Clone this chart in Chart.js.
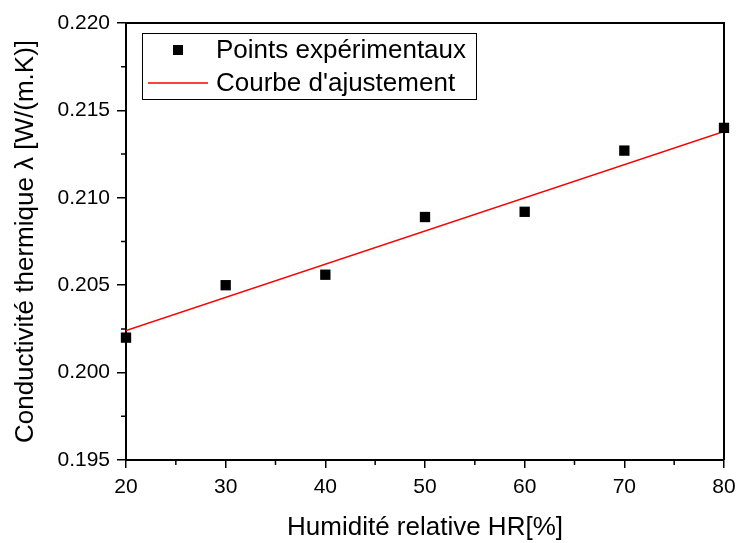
<!DOCTYPE html>
<html>
<head>
<meta charset="utf-8">
<script src="https://cdn.jsdelivr.net/npm/chart.js@4/dist/chart.umd.min.js"></script>
<style>
  html, body { margin: 0; padding: 0; background: #fff; }
  #wrap { width: 738px; height: 543px; }
</style>
</head>
<body>
<div id="wrap"><canvas id="chart" width="738" height="543"></canvas></div>
<script>
// data
const humidity = [20, 30, 40, 50, 60, 70, 80];
const conductivity = [0.2020, 0.2050, 0.2056, 0.2089, 0.2092, 0.2127, 0.2140];
const fitX = [20, 80];
const fitY = [0.2024, 0.2138];
const xTicks = [20, 30, 40, 50, 60, 70, 80];
const yTicks = [0.195, 0.200, 0.205, 0.210, 0.215, 0.220];

const labelPoints = 'Points expérimentaux';
const labelFit = "Courbe d'ajustement";
const FONT = "'Liberation Sans', Arial, sans-serif";

// minor ticks + top/right frame
const framePlugin = {
  id: 'frame',
  afterDraw(chart) {
    const ctx = chart.ctx, a = chart.chartArea;
    const xs = chart.scales.x, ys = chart.scales.y;
    ctx.save();
    ctx.strokeStyle = '#000';
    ctx.lineWidth = 2;
    ctx.beginPath();
    ctx.moveTo(a.left, a.top); ctx.lineTo(a.right, a.top); ctx.lineTo(a.right, a.bottom);
    ctx.stroke();
    ctx.lineWidth = 1.5;
    ctx.beginPath();
    for (let i = 0; i < xTicks.length - 1; i++) {
      const px = xs.getPixelForValue((xTicks[i] + xTicks[i + 1]) / 2);
      ctx.moveTo(px, a.bottom); ctx.lineTo(px, a.bottom + 5);
    }
    for (let i = 0; i < yTicks.length - 1; i++) {
      const py = ys.getPixelForValue((yTicks[i] + yTicks[i + 1]) / 2);
      ctx.moveTo(a.left, py); ctx.lineTo(a.left - 5, py);
    }
    ctx.stroke();
    ctx.restore();
  }
};

// boxed legend inside the plot, like the original
const legendPlugin = {
  id: 'boxLegend',
  afterDraw(chart) {
    const ctx = chart.ctx;
    ctx.save();
    ctx.strokeStyle = '#000';
    ctx.lineWidth = 1;
    ctx.strokeRect(142.5, 33.5, 334, 66);
    ctx.fillStyle = '#000';
    ctx.fillRect(173, 45, 10, 10);
    ctx.strokeStyle = '#ff0000';
    ctx.lineWidth = 1.5;
    ctx.beginPath();
    ctx.moveTo(148, 83); ctx.lineTo(208, 83);
    ctx.stroke();
    ctx.fillStyle = '#000';
    ctx.font = '26px ' + FONT;
    ctx.textBaseline = 'middle';
    ctx.fillText(labelPoints, 216, 51);
    ctx.fillText(labelFit, 216, 84);
    ctx.restore();
  }
};

new Chart(document.getElementById('chart'), {
  type: 'scatter',
  data: {
    datasets: [
      {
        label: labelPoints,
        data: humidity.map((x, i) => ({ x: x, y: conductivity[i] })),
        pointStyle: 'rect',
        pointRadius: 7.3,
        backgroundColor: '#000',
        borderColor: '#000',
        borderWidth: 0,
        clip: false
      },
      {
        type: 'line',
        label: labelFit,
        data: fitX.map((x, i) => ({ x: x, y: fitY[i] })),
        borderColor: '#ff0000',
        borderWidth: 1.5,
        pointRadius: 0,
        fill: false
      }
    ]
  },
  options: {
    responsive: false,
    animation: false,
    layout: { padding: { top: 23, right: 14, left: 0, bottom: 0 } },
    plugins: { legend: { display: false }, tooltip: { enabled: false } },
    scales: {
      x: {
        type: 'linear',
        min: 20, max: 80,
        afterBuildTicks: s => { s.ticks = xTicks.map(v => ({ value: v })); },
        afterFit: s => { s.height = 83; s.paddingLeft = 0; s.paddingRight = 0; },
        ticks: { color: '#000', font: { family: FONT, size: 21 }, padding: 7, maxRotation: 0 },
        grid: { drawOnChartArea: false, drawTicks: true, tickLength: 8, color: '#000', lineWidth: 1.5 },
        border: { color: '#000', width: 2 },
        title: { display: true, text: 'Humidité relative HR[%]', color: '#000', font: { family: FONT, size: 26 }, padding: { top: 4, bottom: 0 } }
      },
      y: {
        min: 0.195, max: 0.220,
        afterBuildTicks: s => { s.ticks = yTicks.map(v => ({ value: v })); },
        afterFit: s => { s.width = 126; s.paddingTop = 0; s.paddingBottom = 0; },
        ticks: { color: '#000', font: { family: FONT, size: 21 }, padding: 7, callback: v => v.toFixed(3) },
        grid: { drawOnChartArea: false, drawTicks: true, tickLength: 9, color: '#000', lineWidth: 1.5 },
        border: { color: '#000', width: 2 },
        title: { display: true, text: 'Conductivité thermique λ [W/(m.K)]', color: '#000', font: { family: FONT, size: 26 }, padding: { top: 10, bottom: 0 } }
      }
    }
  },
  plugins: [framePlugin, legendPlugin]
});
</script>
</body>
</html>
